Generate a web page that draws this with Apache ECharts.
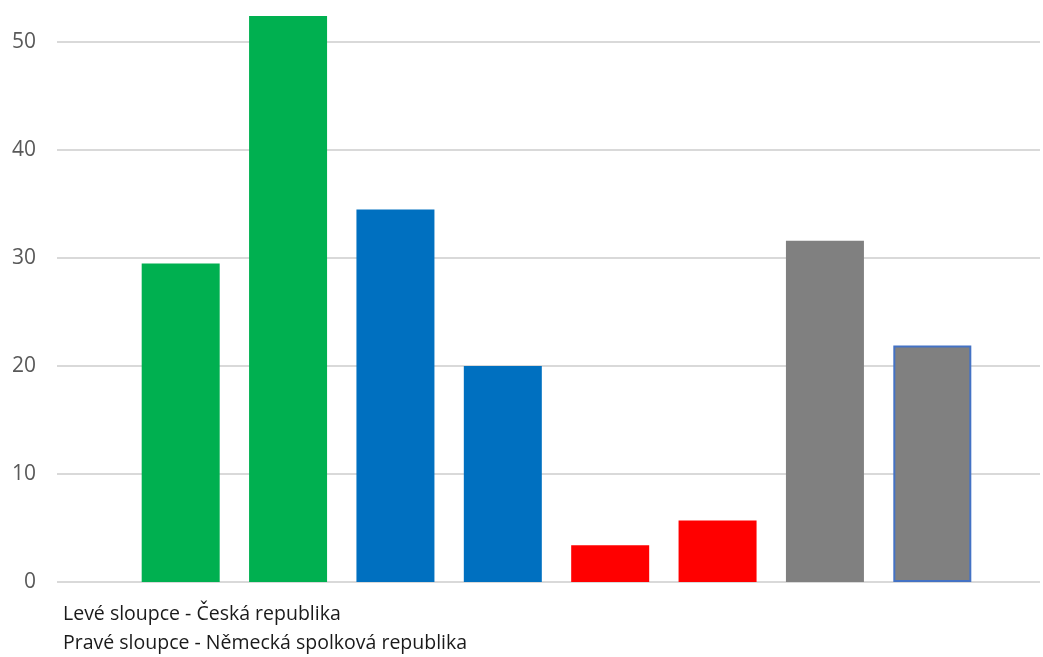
<!DOCTYPE html>
<html>
<head>
<meta charset="utf-8">
<script src="https://cdn.jsdelivr.net/npm/echarts@6/dist/echarts.min.js"></script>
<style>html,body{margin:0;padding:0;background:#fff;}#c{width:1043px;height:657px;}</style>
</head>
<body>
<div id="c"></div>
<script>
var categories = ['Česká republika A','Německá spolková republika A','Česká republika B','Německá spolková republika B','Česká republika C','Německá spolková republika C','Česká republika D','Německá spolková republika D'];
var values = [29.5, 52.4, 34.5, 20.0, 3.4, 5.7, 31.6, 21.9];
var barColors = ['#00B050','#00B050','#0070C0','#0070C0','#FF0000','#FF0000','#808080','#808080'];
var yTicks = [0,10,20,30,40,50];
var legendLines = ['Levé sloupce - Česká republika','Pravé sloupce - Německá spolková republika'];

var chart = echarts.init(document.getElementById('c'));
var data = values.map(function(v,i){
  var it = {value:v, itemStyle:{color:barColors[i]}};
  if(i===7){ it.itemStyle.borderColor='#4472C4'; it.itemStyle.borderWidth=2; }
  return it;
});
var font = '"Open Sans", "Noto Sans", sans-serif';
chart.setOption({
  animation:false,
  grid:[
    {left:57, right:3, top:-66, bottom:75, outerBoundsMode:'none', containLabel:false},
    {left:127, right:57, top:-66, bottom:75, outerBoundsMode:'none', containLabel:false}
  ],
  xAxis:[
    {type:'category', gridIndex:0, data:[''], show:false},
    {type:'category', gridIndex:1, data:categories, axisLine:{show:false}, axisTick:{show:false}, axisLabel:{show:false}}
  ],
  yAxis:[
    {type:'value', gridIndex:0, min:0, max:60, interval:10,
     axisLine:{show:false}, axisTick:{show:false},
     axisLabel:{color:'#595959', fontSize:21, fontFamily:font, margin:21,
       formatter:function(v){ return yTicks.indexOf(v)>=0 ? String(v) : ''; }},
     splitLine:{lineStyle:{color:'#d9d9d9', width:2}}},
    {type:'value', gridIndex:1, min:0, max:60, interval:10, show:false, splitLine:{show:false}}
  ],
  series:[{
    type:'bar', xAxisIndex:1, yAxisIndex:1, data:data, barWidth:78
  }],
  graphic:[
    {type:'text', left:63, top:604, style:{text:legendLines[0], fill:'#1a1a1a', fontSize:19.5, fontFamily:font}},
    {type:'text', left:63, top:633, style:{text:legendLines[1], fill:'#1a1a1a', fontSize:19.5, fontFamily:font}}
  ]
});
</script>
</body>
</html>
